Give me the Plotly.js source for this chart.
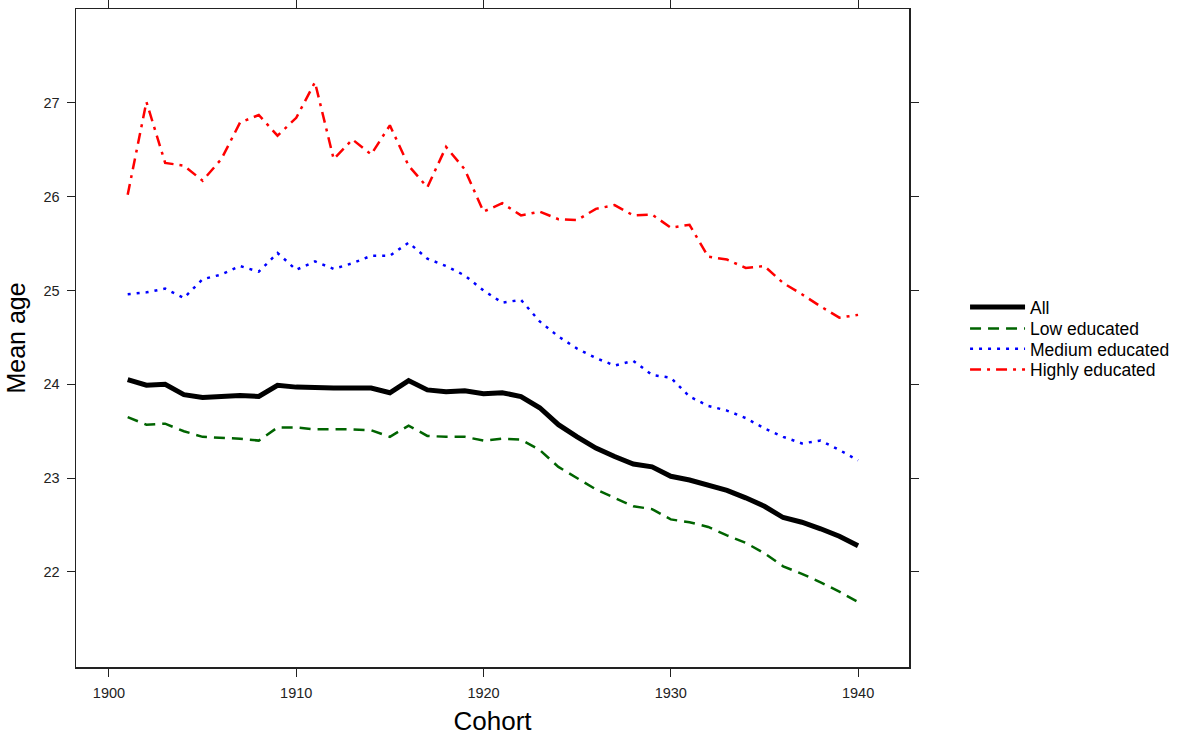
<!DOCTYPE html>
<html>
<head>
<meta charset="utf-8">
<script src="https://cdn.plot.ly/plotly-3.0.1.min.js"></script>
<style>html,body{margin:0;padding:0;background:#fff;}#chart{width:1183px;height:743px;}</style>
</head>
<body>
<div id="chart"></div>
<script>
var cohorts = [1901,1902,1903,1904,1905,1906,1907,1908,1909,1910,
               1911,1912,1913,1914,1915,1916,1917,1918,1919,1920,
               1921,1922,1923,1924,1925,1926,1927,1928,1929,1930,
               1931,1932,1933,1934,1935,1936,1937,1938,1939,1940];

var allAge = [24.05,23.99,24.00,23.89,23.86,23.87,23.88,23.87,23.99,23.97,
              23.96,23.96,23.96,23.96,23.91,24.04,23.94,23.92,23.93,23.90,
              23.91,23.87,23.75,23.57,23.44,23.32,23.23,23.15,23.12,23.02,
              22.98,22.92,22.87,22.79,22.70,22.58,22.53,22.46,22.38,22.28];

var lowAge = [23.65,23.57,23.58,23.50,23.44,23.43,23.42,23.40,23.54,23.54,
              23.52,23.52,23.52,23.51,23.44,23.56,23.45,23.44,23.44,23.40,
              23.42,23.41,23.30,23.12,23.00,22.88,22.79,22.70,22.67,22.56,
              22.53,22.48,22.39,22.31,22.20,22.06,21.98,21.89,21.79,21.68];

var mediumAge = [24.96,24.98,25.02,24.92,25.12,25.17,25.26,25.20,25.40,25.22,
                 25.31,25.23,25.29,25.37,25.37,25.51,25.34,25.26,25.16,25.00,
                 24.87,24.90,24.67,24.51,24.38,24.28,24.20,24.25,24.10,24.07,
                 23.87,23.77,23.72,23.64,23.53,23.44,23.37,23.40,23.30,23.19];

var highAge = [26.02,27.01,26.36,26.33,26.17,26.40,26.79,26.87,26.65,26.84,
               27.22,26.40,26.61,26.45,26.76,26.33,26.10,26.53,26.29,25.84,
               25.93,25.80,25.84,25.76,25.75,25.87,25.91,25.80,25.81,25.67,
               25.70,25.36,25.33,25.24,25.26,25.08,24.96,24.83,24.71,24.74];

var seriesNames = ["All", "Low educated", "Medium educated", "Highly educated"];
var xTicks = [1900, 1910, 1920, 1930, 1940];
var yTicks = [22, 23, 24, 25, 26, 27];

var FONT = "Liberation Sans, Arial, sans-serif";

var traces = [
  {x: cohorts, y: allAge, name: seriesNames[0], type: "scatter", mode: "lines",
   legend: "legend", line: {color: "#000000", width: 5}},
  {x: cohorts, y: lowAge, name: seriesNames[1], type: "scatter", mode: "lines",
   legend: "legend2", line: {color: "#006400", width: 2.5, dash: "11px,7px"}},
  {x: cohorts, y: mediumAge, name: seriesNames[2], type: "scatter", mode: "lines",
   legend: "legend3", line: {color: "#0000FF", width: 2.5, dash: "3px,6px"}},
  {x: cohorts, y: highAge, name: seriesNames[3], type: "scatter", mode: "lines",
   legend: "legend4", line: {color: "#FF0000", width: 2.5, dash: "11px,6px,3px,6px"}}
];

var axisCommon = {
  showgrid: false, zeroline: false,
  showline: true, linecolor: "#222", linewidth: 1.5, mirror: "ticks",
  ticks: "outside", ticklen: 8, tickwidth: 1, tickcolor: "#222",
  ticklabelstandoff: 4,
  tickfont: {family: FONT, size: 14.5, color: "#222"}
};

function legendAt(yPaper) {
  return {
    x: 1.0660, xanchor: "left", y: yPaper, yanchor: "middle",
    itemwidth: 55,
    font: {family: FONT, size: 17.5, color: "#000"},
    bgcolor: "rgba(0,0,0,0)", borderwidth: 0
  };
}

var layout = {
  width: 1183, height: 743,
  margin: {l: 76, r: 273, t: 9, b: 76},
  paper_bgcolor: "#ffffff", plot_bgcolor: "#ffffff",
  showlegend: true,
  xaxis: Object.assign({}, axisCommon, {
    range: [1898.24, 1942.72], tickvals: xTicks, ticktext: xTicks.map(String),
    title: {text: "Cohort", standoff: 12, font: {family: FONT, size: 26, color: "#000"}}
  }),
  yaxis: Object.assign({}, axisCommon, {
    range: [20.987, 28.0], tickvals: yTicks, ticktext: yTicks.map(String),
    title: {text: "Mean age", standoff: 10, font: {family: FONT, size: 25, color: "#000"}}
  }),
  legend: legendAt(0.5471),
  legend2: legendAt(0.5144),
  legend3: legendAt(0.4833),
  legend4: legendAt(0.4521)
};

Plotly.newPlot("chart", traces, layout, {displayModeBar: false, staticPlot: true});
</script>
</body>
</html>
